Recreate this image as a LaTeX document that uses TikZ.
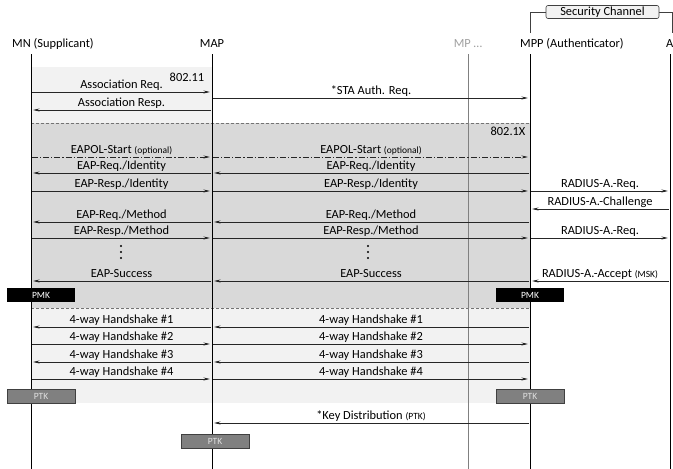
\documentclass[tikz,border=0pt]{standalone}
\usepackage{fontspec}
\setmainfont{Carlito}
\usetikzlibrary{arrows.meta}
\definecolor{bglight}{HTML}{F2F2F2}
\definecolor{bgdark}{HTML}{D9D9D9}
\definecolor{ptkfill}{HTML}{808080}
\definecolor{mpgray}{HTML}{A0A0A0}
\tikzset{
  msg/.style={draw=black!85, line width=0.75pt, -{Stealth[length=6.5pt,width=3pt]}, shorten >=2pt, shorten <=1pt},
  dashdot/.style={dash pattern=on 6pt off 2pt on 1.2pt off 2pt},
  lbl/.style={font=\fontsize{12.4}{14}\selectfont, anchor=base, inner sep=0pt, midway, yshift=3.5pt},
  lifeline/.style={line width=0.9pt},
  head/.style={font=\fontsize{12.4}{14}\selectfont, inner sep=0pt},
  keybox/.style={minimum width=68pt, minimum height=14pt, inner sep=0pt, font=\fontsize{9.5}{10}\selectfont},
  pmkbox/.style={keybox, fill=black, text=white},
  ptkbox/.style={keybox, fill=ptkfill, draw=black!75, text=black!12, line width=0.6pt},
  sepline/.style={draw=black!55, line width=0.6pt, dash pattern=on 3pt off 2pt},
  note/.style={font=\fontsize{12.4}{14}\selectfont, inner sep=0pt},
  dotmark/.style={fill=black, draw=none, circle, minimum size=2.2pt, inner sep=0pt},
  scbox/.style={draw=black!75, fill=bglight, rounded corners=2pt, line width=0.6pt, minimum width=113pt, minimum height=13pt, inner sep=0pt, font=\fontsize{12.4}{14}\selectfont},
}
\newcommand\smalltxt[1]{{\fontsize{9.5}{10}\selectfont #1}}
\newcommand\Msg[5][]{\draw[msg,#1] (#2|-#4) -- node[lbl]{#5} (#3|-#4);}
\begin{document}
\begin{tikzpicture}[x=1pt,y=-1pt]
\useasboundingbox (0,0) rectangle (673,469);
% lifeline x positions
\coordinate (mn) at (31,0);
\coordinate (map) at (212,0);
\coordinate (mp) at (468,0);
\coordinate (mpp) at (530,0);
\coordinate (aa) at (670,0);
\coordinate (top) at (0,54);
\coordinate (bot) at (0,469);
% background regions
\fill[bglight] (31,67) rectangle (212,123);
\fill[bgdark] (31,123) rectangle (530,308);
\fill[bglight] (31,308) rectangle (530,403);
\coordinate (sepA) at (0,123);
\coordinate (sepB) at (0,308);
\draw[sepline] (mn|-sepA) -- (mpp|-sepA);
\draw[sepline] (mn|-sepB) -- (mpp|-sepB);
% headers
\node[head, anchor=base west] (mnl) at (12,47) {MN (Supplicant)};
\node[head, anchor=base] (mapl) at (212,47) {MAP};
\node[head, anchor=base, text=mpgray] (mpl) at (468,47) {MP …};
\node[head, anchor=base west] (mppl) at (520,47) {MPP (Authenticator)};
\node[head, anchor=base west] (al) at (666,47) {A};
% security channel
\node[scbox] (sc) at (602.5,12) {Security Channel};
\coordinate (scL) at (530,33);
\coordinate (scR) at (672,33);
\draw[line width=0.6pt, draw=black!75] (scL) |- (sc.west);
\draw[line width=0.6pt, draw=black!75] (sc.east) -| (scR);
% lifelines
\draw[lifeline] (mn|-top) -- (mn|-bot);
\draw[lifeline] (map|-top) -- (map|-bot);
\draw[lifeline, draw=mpgray!80!black, line width=0.7pt] (mp|-top) -- (mp|-bot);
\draw[lifeline] (mpp|-top) -- (mpp|-bot);
\draw[lifeline] (aa|-top) -- (aa|-bot);
% notes
\node[note] (n80211) at (187,77) {802.11};
\node[note] (n8021x) at (508,131) {802.1X};
% rows
\coordinate (r1) at (0,92);
\coordinate (r2) at (0,98);
\coordinate (r3) at (0,110);
\coordinate (r4) at (0,157);
\coordinate (r5) at (0,173);
\coordinate (r6) at (0,191);
\coordinate (r7) at (0,209);
\coordinate (r8) at (0,222);
\coordinate (r9) at (0,238);
\coordinate (r11) at (0,281);
\coordinate (h1) at (0,327);
\coordinate (h2) at (0,344);
\coordinate (h3) at (0,362);
\coordinate (h4) at (0,379);
\coordinate (kd) at (0,423);
% messages
\Msg{mn}{map}{r1}{Association Req.}
\Msg{map}{mpp}{r2}{*STA Auth. Req.}
\Msg{map}{mn}{r3}{Association Resp.}
\Msg[dashdot]{mn}{map}{r4}{EAPOL-Start \smalltxt{(optional)}}
\Msg[dashdot]{map}{mpp}{r4}{EAPOL-Start \smalltxt{(optional)}}
\Msg{map}{mn}{r5}{EAP-Req./Identity}
\Msg{mpp}{map}{r5}{EAP-Req./Identity}
\Msg{mn}{map}{r6}{EAP-Resp./Identity}
\Msg{map}{mpp}{r6}{EAP-Resp./Identity}
\Msg{mpp}{aa}{r6}{RADIUS-A.-Req.}
\Msg{aa}{mpp}{r7}{RADIUS-A.-Challenge}
\Msg{map}{mn}{r8}{EAP-Req./Method}
\Msg{mpp}{map}{r8}{EAP-Req./Method}
\Msg{mn}{map}{r9}{EAP-Resp./Method}
\Msg{map}{mpp}{r9}{EAP-Resp./Method}
\Msg{mpp}{aa}{r9}{RADIUS-A.-Req.}
% vertical ellipsis dots
\foreach \yy [count=\i] in {246,252,258} {
  \node[dotmark] (dl\i) at (121,\yy) {};
  \node[dotmark] (dr\i) at (368,\yy) {};
}
\Msg{map}{mn}{r11}{EAP-Success}
\Msg{mpp}{map}{r11}{EAP-Success}
\Msg{aa}{mpp}{r11}{RADIUS-A.-Accept \smalltxt{(MSK)}}
\Msg{map}{mn}{h1}{4-way Handshake \#1}
\Msg{mpp}{map}{h1}{4-way Handshake \#1}
\Msg{mn}{map}{h2}{4-way Handshake \#2}
\Msg{map}{mpp}{h2}{4-way Handshake \#2}
\Msg{map}{mn}{h3}{4-way Handshake \#3}
\Msg{mpp}{map}{h3}{4-way Handshake \#3}
\Msg{mn}{map}{h4}{4-way Handshake \#4}
\Msg{map}{mpp}{h4}{4-way Handshake \#4}
\Msg{mpp}{map}{kd}{*Key Distribution \smalltxt{(PTK)}}
% key boxes
\node[pmkbox] (pmkL) at (41,295) {PMK};
\node[pmkbox] (pmkR) at (530,295) {PMK};
\node[ptkbox] (ptkL) at (41,396) {PTK};
\node[ptkbox] (ptkR) at (530,396) {PTK};
\node[ptkbox] (ptkM) at (215,441.5) {PTK};
\end{tikzpicture}
\end{document}
